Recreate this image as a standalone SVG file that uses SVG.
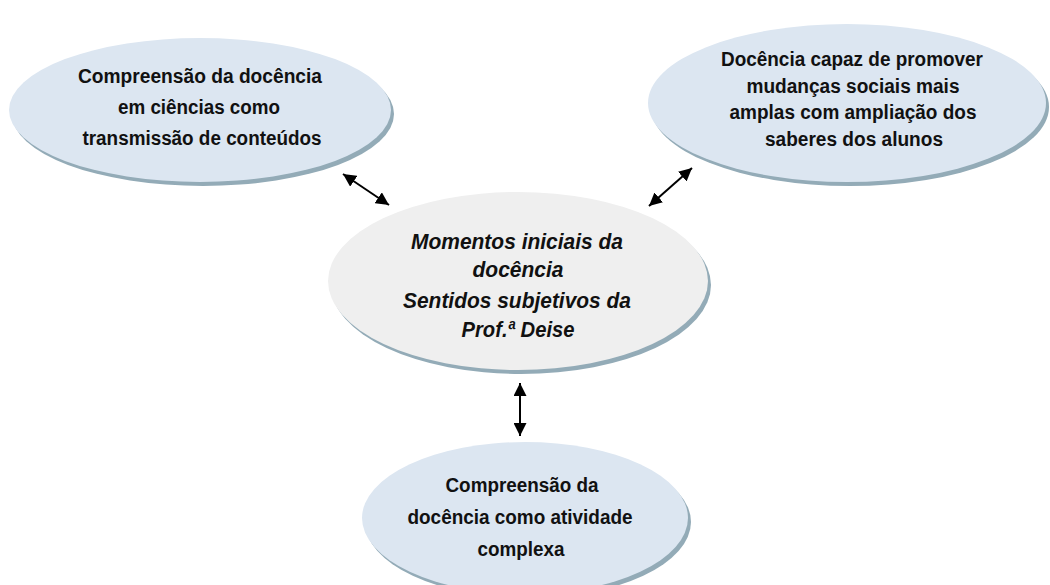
<svg xmlns="http://www.w3.org/2000/svg" width="1050" height="585" viewBox="0 0 1050 585">
<style>
.shadow{fill:#93abb7}
.blue{fill:#dce6f1}
.gray{fill:#efefef}
.t{font-family:"Liberation Sans",Arial,sans-serif;font-weight:bold;font-size:20px;fill:#111;text-anchor:middle}
.ti{font-family:"Liberation Sans",Arial,sans-serif;font-weight:bold;font-style:italic;font-size:22px;fill:#111;text-anchor:middle}
.conn{stroke:#000;stroke-width:2;fill:none;marker-start:url(#ah);marker-end:url(#ah)}
</style>
<defs>
<marker id="ah" viewBox="0 0 10 10" refX="10" refY="5" markerWidth="6.5" markerHeight="6.5" orient="auto-start-reverse">
<path d="M0,0 L10,5 L0,10 z" fill="#000"/>
</marker>
</defs>
<rect width="1050" height="585" fill="#fff"/>
<g id="node-top-left">
<ellipse class="shadow" cx="203" cy="114" rx="191" ry="72"/>
<ellipse class="blue" cx="200" cy="110" rx="191" ry="72"/>
<text class="t" x="200" y="83" textLength="244" lengthAdjust="spacingAndGlyphs">Compreensão da docência</text>
<text class="t" x="199" y="114" textLength="162" lengthAdjust="spacingAndGlyphs">em ciências como</text>
<text class="t" x="202" y="145" textLength="239" lengthAdjust="spacingAndGlyphs">transmissão de conteúdos</text>
</g>
<g id="node-top-right">
<ellipse class="shadow" cx="850" cy="107" rx="199" ry="79"/>
<ellipse class="blue" cx="847" cy="103" rx="199" ry="79"/>
<text class="t" x="852" y="66" textLength="262" lengthAdjust="spacingAndGlyphs">Docência capaz de promover</text>
<text class="t" x="853" y="93" textLength="213" lengthAdjust="spacingAndGlyphs">mudanças sociais mais</text>
<text class="t" x="853" y="119" textLength="247" lengthAdjust="spacingAndGlyphs">amplas com ampliação dos</text>
<text class="t" x="854" y="146" textLength="178" lengthAdjust="spacingAndGlyphs">saberes dos alunos</text>
</g>
<g id="node-center">
<ellipse class="shadow" cx="521" cy="285" rx="190" ry="89"/>
<ellipse class="gray" cx="518" cy="281" rx="190" ry="89"/>
<text class="ti" x="517" y="249" textLength="212" lengthAdjust="spacingAndGlyphs">Momentos iniciais da</text>
<text class="ti" x="518" y="277" textLength="91" lengthAdjust="spacingAndGlyphs">docência</text>
<text class="ti" x="517" y="308" textLength="228" lengthAdjust="spacingAndGlyphs">Sentidos subjetivos da</text>
<text class="ti" x="518" y="337" textLength="113" lengthAdjust="spacingAndGlyphs">Prof.ª Deise</text>
</g>
<g id="node-bottom">
<ellipse class="shadow" cx="528" cy="522" rx="163" ry="76"/>
<ellipse class="blue" cx="525" cy="518" rx="163" ry="76"/>
<text class="t" x="522" y="492" textLength="153" lengthAdjust="spacingAndGlyphs">Compreensão da</text>
<text class="t" x="520" y="524" textLength="225" lengthAdjust="spacingAndGlyphs">docência como atividade</text>
<text class="t" x="521" y="556" textLength="87" lengthAdjust="spacingAndGlyphs">complexa</text>
</g>
<g id="connectors">
<line class="conn" x1="343" y1="174" x2="389" y2="205"/>
<line class="conn" x1="692" y1="168" x2="649" y2="206"/>
<line class="conn" x1="520" y1="383" x2="520" y2="436"/>
</g>
</svg>
